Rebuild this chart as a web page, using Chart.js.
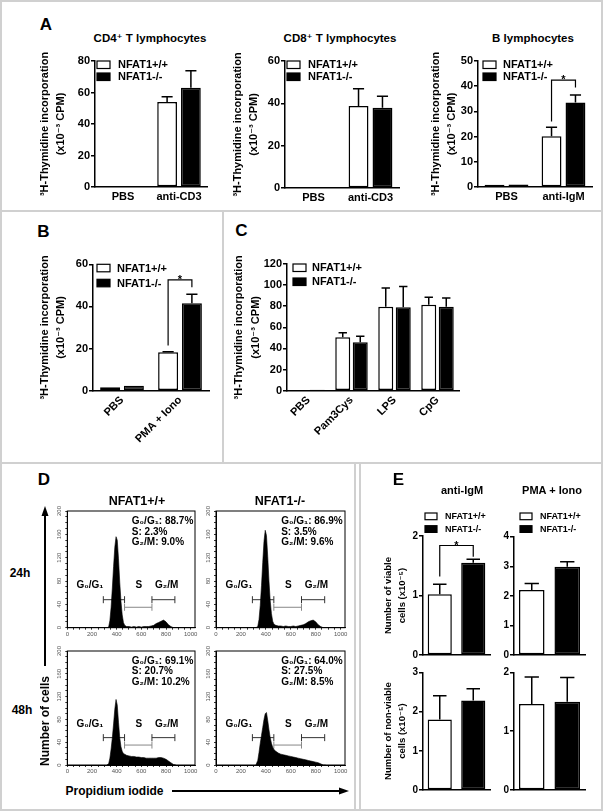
<!DOCTYPE html>
<html>
<head>
<meta charset="utf-8">
<script src="https://cdn.jsdelivr.net/npm/chart.js@4.4.1/dist/chart.umd.min.js"></script>
<style>
body { margin: 0; background: #fff; }
#fig { position: relative; width: 606px; height: 811px; overflow: hidden; background: #fff;
  font-family: 'Liberation Sans', Arial, 'DejaVu Sans', sans-serif; font-weight: bold; color: #000; }
#fig canvas { position: absolute; }
.t { position: absolute; white-space: nowrap; line-height: 1; }
</style>
</head>
<body>
<div id="fig">
<svg width="606" height="811" style="position:absolute;left:0;top:0">
  <g stroke="#d0d0d0" stroke-width="2" fill="none">
    <rect x="1" y="1" width="601" height="809"/>
    <line x1="0" y1="211" x2="602" y2="211"/>
    <line x1="223" y1="211" x2="223" y2="463"/>
    <line x1="0" y1="463" x2="602" y2="463"/>
    <line x1="355" y1="463" x2="355" y2="810"/>
    <line x1="360" y1="463" x2="360" y2="810"/>
  </g>
  <line x1="45" y1="514" x2="45" y2="666" stroke="#000" stroke-width="2"/>
  <polygon points="45,506 41.5,516 48.5,516" fill="#000"/>
  <line x1="172" y1="791" x2="340" y2="791" stroke="#000" stroke-width="2"/>
  <polygon points="349,791 339,787.5 339,794.5" fill="#000"/>
</svg>
</div>
<script>
// shared
const groups = ['NFAT1+/+', 'NFAT1-/-'];

// A: thymidine incorporation (x10^-3 CPM)
const cd4Cats = ['PBS', 'anti-CD3'];
const cd4Wt = [0.3, 54];
const cd4WtErr = [0, 3.3];
const cd4Ko = [0.3, 63];
const cd4KoErr = [0, 10.8];

const cd8Cats = ['PBS', 'anti-CD3'];
const cd8Wt = [0.3, 38.7];
const cd8WtErr = [0, 8.2];
const cd8Ko = [0.3, 37.9];
const cd8KoErr = [0, 5.4];

const bCats = ['PBS', 'anti-IgM'];
const bWt = [0.9, 20.1];
const bWtErr = [0, 3.6];
const bKo = [1.0, 33.5];
const bKoErr = [0, 3.0];

// B
const pmaCats = ['PBS', 'PMA + Iono'];
const pmaWt = [1.6, 18.2];
const pmaWtErr = [0, 0.3];
const pmaKo = [2.4, 41.5];
const pmaKoErr = [0, 4.3];

// C
const tlrCats = ['PBS', 'Pam3Cys', 'LPS', 'CpG'];
const tlrWt = [0.5, 50.6, 79.6, 81.5];
const tlrWtErr = [0, 4.4, 17.7, 7.0];
const tlrKo = [0.8, 45.9, 79.0, 79.6];
const tlrKoErr = [0, 5.6, 19.6, 8.3];

// D: cell cycle histograms (propidium iodide vs number of cells)
const histX = [320, 335, 345, 355, 365, 375, 385, 395, 405, 415, 425, 435, 445, 455, 465, 480, 500, 520,
  540, 560, 580, 600, 620, 640, 660, 680, 700, 720, 740, 760, 780, 800, 820, 840, 860, 880];
const wt24 = [0, 1, 12, 35, 68, 105, 138, 156, 150, 118, 78, 45, 22, 9, 4, 2, 2, 1,
  2, 1, 2, 1, 2, 2, 2, 3, 4, 7, 9, 11, 13, 10, 5, 2, 0, 0];
const ko24 = [0, 2, 14, 38, 72, 112, 148, 167, 158, 122, 80, 46, 24, 11, 6, 4, 3, 3,
  2, 3, 2, 2, 3, 2, 3, 4, 5, 7, 10, 12, 13, 10, 5, 2, 0, 0];
const wt48 = [0, 2, 12, 28, 48, 72, 98, 115, 105, 75, 48, 32, 24, 20, 19, 17, 16, 15,
  15, 14, 14, 13, 13, 12, 12, 12, 12, 12, 13, 13, 12, 10, 7, 4, 1, 0];
const ko48 = [0, 8, 22, 38, 52, 66, 80, 90, 92, 78, 62, 48, 38, 31, 27, 24, 21, 19,
  18, 17, 16, 15, 14, 13, 12, 11, 10, 9, 8, 7, 6, 5, 4, 2, 0, 0];
const gateG1 = [292, 464];
const gateS = [464, 686];
const gateG2 = [686, 872];
const statsWt24 = [88.7, 2.3, 9.0];
const statsKo24 = [86.9, 3.5, 9.6];
const statsWt48 = [69.1, 20.7, 10.2];
const statsKo48 = [64.0, 27.5, 8.5];

// E: cell numbers (x10^-5)
const viableIgM = [1.02, 1.55];
const viableIgMErr = [0.17, 0.06];
const viablePma = [2.2, 2.98];
const viablePmaErr = [0.22, 0.17];
const deadIgM = [1.80, 2.28];
const deadIgMErr = [0.60, 0.30];
const deadPma = [1.46, 1.50];
const deadPmaErr = [0.46, 0.41];

const FONT = "'Liberation Sans', Arial, 'DejaVu Sans', sans-serif";
Chart.defaults.font.family = FONT;
Chart.defaults.font.weight = 'bold';
Chart.defaults.color = '#000';

const fig = document.getElementById('fig');

function place(box) {
  const c = document.createElement('canvas');
  c.width = box[2];
  c.height = box[3];
  c.style.left = box[0] + 'px';
  c.style.top = box[1] + 'px';
  fig.appendChild(c);
  return c;
}

function text(str, x, y, size, rot) {
  const d = document.createElement('div');
  d.className = 't';
  d.textContent = str;
  d.style.left = x + 'px';
  d.style.top = y + 'px';
  d.style.fontSize = size + 'px';
  d.style.transform = 'translate(-50%,-50%)' + (rot ? ' rotate(' + rot + 'deg)' : '');
  fig.appendChild(d);
}

// upward error bars with caps
const errorBars = {
  id: 'errorBars',
  afterDatasetsDraw(chart) {
    const ctx = chart.ctx, ys = chart.scales.y;
    ctx.save();
    ctx.strokeStyle = '#000';
    ctx.lineWidth = 1.5;
    chart.data.datasets.forEach((ds, i) => {
      chart.getDatasetMeta(i).data.forEach((bar, j) => {
        const v = ds.data[j], e = ds.err[j];
        if (v == null || !e) return;
        const top = ys.getPixelForValue(v + e);
        const cap = bar.width * 0.28;
        ctx.beginPath();
        ctx.moveTo(bar.x, bar.y);
        ctx.lineTo(bar.x, top);
        ctx.moveTo(bar.x - cap, top);
        ctx.lineTo(bar.x + cap, top);
        ctx.stroke();
      });
    });
    ctx.restore();
  }
};

const boxLegend = {
  id: 'boxLegend',
  afterDraw(chart, args, o) {
    if (!o || !o.size) return;
    const { ctx, chartArea } = chart;
    ctx.save();
    chart.data.datasets.forEach((ds, i) => {
      const x = chartArea.left + o.dx, y = chartArea.top + o.dy + i * o.gap;
      ctx.fillStyle = ds.backgroundColor;
      ctx.strokeStyle = '#000';
      ctx.lineWidth = 1.2;
      ctx.fillRect(x, y, o.w, o.h);
      ctx.strokeRect(x, y, o.w, o.h);
      ctx.fillStyle = '#000';
      ctx.font = 'bold ' + o.size + 'px ' + FONT;
      ctx.textBaseline = 'middle';
      ctx.textAlign = 'left';
      ctx.fillText(ds.label, x + o.tx, y + o.h / 2 + 0.5);
    });
    ctx.restore();
  }
};

const bracket = {
  id: 'bracket',
  afterDatasetsDraw(chart, args, o) {
    if (!o || !o.a) return;
    const ctx = chart.ctx, ys = chart.scales.y;
    const a = chart.getDatasetMeta(o.a[0]).data[o.a[1]];
    const b = chart.getDatasetMeta(o.b[0]).data[o.b[1]];
    const yt = ys.getPixelForValue(o.top);
    ctx.save();
    ctx.strokeStyle = '#000';
    ctx.lineWidth = 1.2;
    ctx.beginPath();
    ctx.moveTo(a.x, ys.getPixelForValue(o.aEnd));
    ctx.lineTo(a.x, yt);
    ctx.lineTo(b.x, yt);
    ctx.lineTo(b.x, ys.getPixelForValue(o.bEnd));
    ctx.stroke();
    ctx.fillStyle = '#000';
    ctx.font = 'bold 11px ' + FONT;
    ctx.textAlign = 'center';
    ctx.textBaseline = 'alphabetic';
    ctx.fillText('*', (a.x + b.x) / 2, yt + 3);
    ctx.restore();
  }
};

const frame = {
  id: 'frame',
  afterDraw(chart) {
    const { ctx, chartArea: c } = chart;
    ctx.save();
    ctx.strokeStyle = '#000';
    ctx.lineWidth = 1;
    ctx.strokeRect(c.left, c.top, c.right - c.left, c.bottom - c.top);
    ctx.restore();
  }
};

const notes = {
  id: 'notes',
  afterDatasetsDraw(chart, args, o) {
    const { ctx, scales: { x, y } } = chart;
    ctx.save();
    ctx.fillStyle = '#000';
    ctx.textBaseline = 'middle';
    o.items.forEach(n => {
      ctx.font = 'bold ' + n.size + 'px ' + FONT;
      ctx.textAlign = n.align;
      ctx.fillText(n.text, x.getPixelForValue(n.x), y.getPixelForValue(n.y));
    });
    ctx.restore();
  }
};

function barChart(o) {
  const [bx, by, bw, bh] = o.box;
  const [l, t, r, b] = o.area;
  const lh = o.titleSize * o.titleLh;
  return new Chart(place(o.box), {
    type: 'bar',
    data: {
      labels: o.cats,
      datasets: o.sets.map((s, i) => ({
        label: groups[i],
        data: s[0],
        err: s[1],
        backgroundColor: i ? '#000' : '#fff',
        borderColor: '#000',
        borderWidth: 1.5,
        borderSkipped: false,
        categoryPercentage: o.catPct,
        barPercentage: o.barPct,
        skipNull: true
      }))
    },
    options: {
      responsive: false,
      animation: false,
      events: [],
      devicePixelRatio: 1,
      layout: { padding: { left: 0, top: t - by, right: bx + bw - r, bottom: 0 } },
      plugins: {
        legend: { display: false },
        tooltip: { enabled: false },
        boxLegend: o.legend || {},
        bracket: o.bracket || {}
      },
      scales: {
        x: {
          grid: { display: false, drawTicks: false },
          border: { color: '#000', width: 1.5 },
          ticks: {
            display: o.xLabels !== false,
            color: '#000', font: { size: 11 }, padding: 3,
            minRotation: o.rot || 0, maxRotation: o.rot || 0
          },
          afterFit: s => { s.height = by + bh - b; }
        },
        y: {
          min: 0, max: o.yMax,
          grid: { drawOnChartArea: false, color: '#000', lineWidth: 1.5, tickLength: 4 },
          border: { color: '#000', width: 1.5 },
          ticks: { stepSize: o.yStep, color: '#000', font: { size: o.tickSize }, padding: 1 },
          title: o.yTitle ? {
            display: true, text: o.yTitle, color: '#000',
            font: { size: o.titleSize, lineHeight: o.titleLh },
            padding: { top: o.titleX - bx - lh / 2, bottom: 0 }
          } : { display: false },
          afterFit: s => { s.width = l - bx; }
        }
      }
    },
    plugins: [errorBars, boxLegend, bracket]
  });
}

function histChart(box, area, counts, stats) {
  const [bx, by, bw, bh] = box;
  const [l, t, r, b] = area;
  const gate = (range, color, level) => ({
    type: 'line',
    data: range.map(x => ({ x, y: level })),
    borderColor: color, borderWidth: 1, fill: false,
    pointStyle: 'line', pointRotation: 90, pointRadius: 3.5,
    pointBorderColor: color, pointBorderWidth: 1
  });
  const axisTicks = { color: '#000', lineWidth: 0.8, tickLength: 2, drawOnChartArea: false };
  return new Chart(place(box), {
    type: 'line',
    data: {
      datasets: [
        { data: histX.map((x, i) => ({ x, y: counts[i] })), fill: 'origin',
          backgroundColor: '#000', borderColor: '#000', borderWidth: 0.6, pointRadius: 0, tension: 0 },
        gate(gateG1, '#333', 48),
        gate(gateS, '#888', 35),
        gate(gateG2, '#333', 48)
      ]
    },
    options: {
      responsive: false,
      animation: false,
      events: [],
      devicePixelRatio: 1,
      layout: { padding: { left: 0, top: t - by, right: bx + bw - r, bottom: 0 } },
      plugins: {
        legend: { display: false },
        tooltip: { enabled: false },
        notes: {
          items: [
            { x: 184, y: 72, text: 'G₀/G₁', size: 10, align: 'center' },
            { x: 580, y: 72, text: 'S', size: 10, align: 'center' },
            { x: 806, y: 72, text: 'G₂/M', size: 10, align: 'center' },
            { x: 523, y: 182, text: 'G₀/G₁: ' + stats[0].toFixed(1) + '%', size: 10, align: 'left' },
            { x: 523, y: 164, text: 'S: ' + stats[1].toFixed(1) + '%', size: 10, align: 'left' },
            { x: 523, y: 146, text: 'G₂/M: ' + stats[2].toFixed(1) + '%', size: 10, align: 'left' }
          ]
        }
      },
      scales: {
        x: {
          type: 'linear', min: 0, max: 1035,
          grid: axisTicks,
          border: { color: '#000', width: 1 },
          ticks: { stepSize: 50, autoSkip: false, includeBounds: false, maxRotation: 0, padding: 1,
            color: '#555', font: { size: 6, weight: 'normal' },
            callback: v => (v % 200 === 0 ? v : '') },
          afterFit: s => { s.height = by + bh - b; }
        },
        y: {
          min: 0, max: 200,
          grid: axisTicks,
          border: { color: '#000', width: 1 },
          ticks: { stepSize: 10, autoSkip: false, includeBounds: false, minRotation: 90, maxRotation: 90,
            crossAlign: 'center', padding: 1, color: '#555', font: { size: 6, weight: 'normal' },
            callback: v => (v % 40 === 0 ? v : '') },
          afterFit: s => { s.width = l - bx; }
        }
      }
    },
    plugins: [frame, notes]
  });
}

const thyTitle = ['³H-Thymidine incorporation', '(x10⁻³ CPM)'];
const legA = { dx: 2, dy: 0, gap: 12, w: 13, h: 7.5, tx: 21, size: 11 };

// panel A
barChart({ box: [28, 48, 184, 167], area: [95, 61, 207, 187], cats: cd4Cats,
  sets: [[cd4Wt, cd4WtErr], [cd4Ko, cd4KoErr]], yMax: 80, yStep: 20, tickSize: 11,
  yTitle: thyTitle, titleSize: 11, titleLh: 1.45, titleX: 44.7,
  catPct: 0.85, barPct: 0.83, legend: legA });
barChart({ box: [220, 48, 184, 167], area: [285, 61, 399, 188], cats: cd8Cats,
  sets: [[cd8Wt, cd8WtErr], [cd8Ko, cd8KoErr]], yMax: 60, yStep: 20, tickSize: 11,
  yTitle: thyTitle, titleSize: 11, titleLh: 1.45, titleX: 238.3,
  catPct: 0.84, barPct: 0.83, legend: legA });
barChart({ box: [415, 48, 185, 167], area: [478, 61, 592, 187], cats: bCats,
  sets: [[bWt, bWtErr], [bKo, bKoErr]], yMax: 50, yStep: 10, tickSize: 11,
  yTitle: thyTitle, titleSize: 11, titleLh: 1.45, titleX: 435.7,
  catPct: 0.84, barPct: 0.83, legend: { dx: 5, dy: 0, gap: 12, w: 13, h: 7.5, tx: 20, size: 11 },
  bracket: { a: [0, 1], b: [1, 1], top: 42.4, aEnd: 26, bEnd: 39.5 } });

// panel B
barChart({ box: [28, 250, 188, 210], area: [93, 264.3, 209, 390.7], cats: pmaCats,
  sets: [[pmaWt, pmaWtErr], [pmaKo, pmaKoErr]], yMax: 60, yStep: 20, tickSize: 11, rot: 45,
  yTitle: thyTitle, titleSize: 11, titleLh: 1.45, titleX: 44.7,
  catPct: 0.82, barPct: 0.84, legend: { dx: 4, dy: 0, gap: 15, w: 13, h: 7.5, tx: 20, size: 11 },
  bracket: { a: [0, 1], b: [1, 1], top: 52.6, aEnd: 21.4, bEnd: 49.1 } });

// panel C
barChart({ box: [226, 250, 240, 210], area: [287, 264, 459, 390.7], cats: tlrCats,
  sets: [[tlrWt, tlrWtErr], [tlrKo, tlrKoErr]], yMax: 120, yStep: 20, tickSize: 11, rot: 45,
  yTitle: thyTitle, titleSize: 11, titleLh: 1.5, titleX: 239,
  catPct: 0.814, barPct: 0.857, legend: { dx: 6, dy: 0, gap: 14, w: 13, h: 7.5, tx: 19, size: 11 } });

// panel D
histChart([50, 505, 150, 135], [67.3, 511, 196.7, 627.7], wt24, statsWt24);
histChart([200, 505, 150, 135], [216, 511, 346, 627.7], ko24, statsKo24);
histChart([50, 645, 150, 132], [67.3, 651, 196.7, 765], wt48, statsWt48);
histChart([200, 645, 150, 132], [216, 651, 346, 765], ko48, statsKo48);

// panel E
const legE = { dx: 2, dy: -23, gap: 12.7, w: 12, h: 6.7, tx: 20, size: 9 };
const legE2 = { dx: 6, dy: -23.7, gap: 12.7, w: 12, h: 6.7, tx: 20, size: 9 };
const split = (v, e) => [[[v[0], null], [e[0], 0]], [[null, v[1]], [0, e[1]]]];
barChart({ box: [375, 500, 120, 168], area: [423, 536, 490, 655], cats: groups,
  sets: split(viableIgM, viableIgMErr), yMax: 2, yStep: 1, tickSize: 10, xLabels: false,
  yTitle: ['Number of viable', 'cells (x10⁻⁵)'], titleSize: 9.5, titleLh: 1.47, titleX: 388,
  catPct: 0.8, barPct: 0.9, legend: legE,
  bracket: { a: [0, 0], b: [1, 1], top: 1.84, aEnd: 1.32, bEnd: 1.65 } });
barChart({ box: [495, 500, 95, 168], area: [514, 536.7, 585, 655], cats: groups,
  sets: split(viablePma, viablePmaErr), yMax: 4, yStep: 1, tickSize: 10, xLabels: false,
  titleSize: 9.5, titleLh: 1.47, catPct: 0.8, barPct: 0.9, legend: legE2 });
barChart({ box: [375, 662, 120, 140], area: [423, 672.3, 490, 790], cats: groups,
  sets: split(deadIgM, deadIgMErr), yMax: 3, yStep: 1, tickSize: 10, xLabels: false,
  yTitle: ['Number of non-viable', 'cells (x10⁻⁵)'], titleSize: 9.5, titleLh: 1.47, titleX: 388,
  catPct: 0.8, barPct: 0.9 });
barChart({ box: [495, 662, 95, 140], area: [514, 672.3, 585, 790], cats: groups,
  sets: split(deadPma, deadPmaErr), yMax: 2, yStep: 1, tickSize: 10, xLabels: false,
  titleSize: 9.5, titleLh: 1.47, catPct: 0.8, barPct: 0.9 });

// headings and labels
text('A', 46, 24, 17);
text('CD4⁺ T lymphocytes', 150, 39, 11.5);
text('CD8⁺ T lymphocytes', 340, 39, 11.5);
text('B lymphocytes', 533, 39, 11.5);
text('B', 43.5, 231, 17);
text('C', 241.5, 230, 17);
text('D', 44, 479, 17);
text('NFAT1+/+', 137, 501, 12.5);
text('NFAT1-/-', 280, 501, 12.5);
text('24h', 20, 573, 12);
text('48h', 22, 710, 12);
text('Number of cells', 45, 721, 12, -90);
text('Propidium iodide', 114.5, 791, 12);
text('E', 398.5, 479, 17);
text('anti-IgM', 462, 490, 11);
text('PMA + Iono', 552, 490, 11);
</script>
</body>
</html>
